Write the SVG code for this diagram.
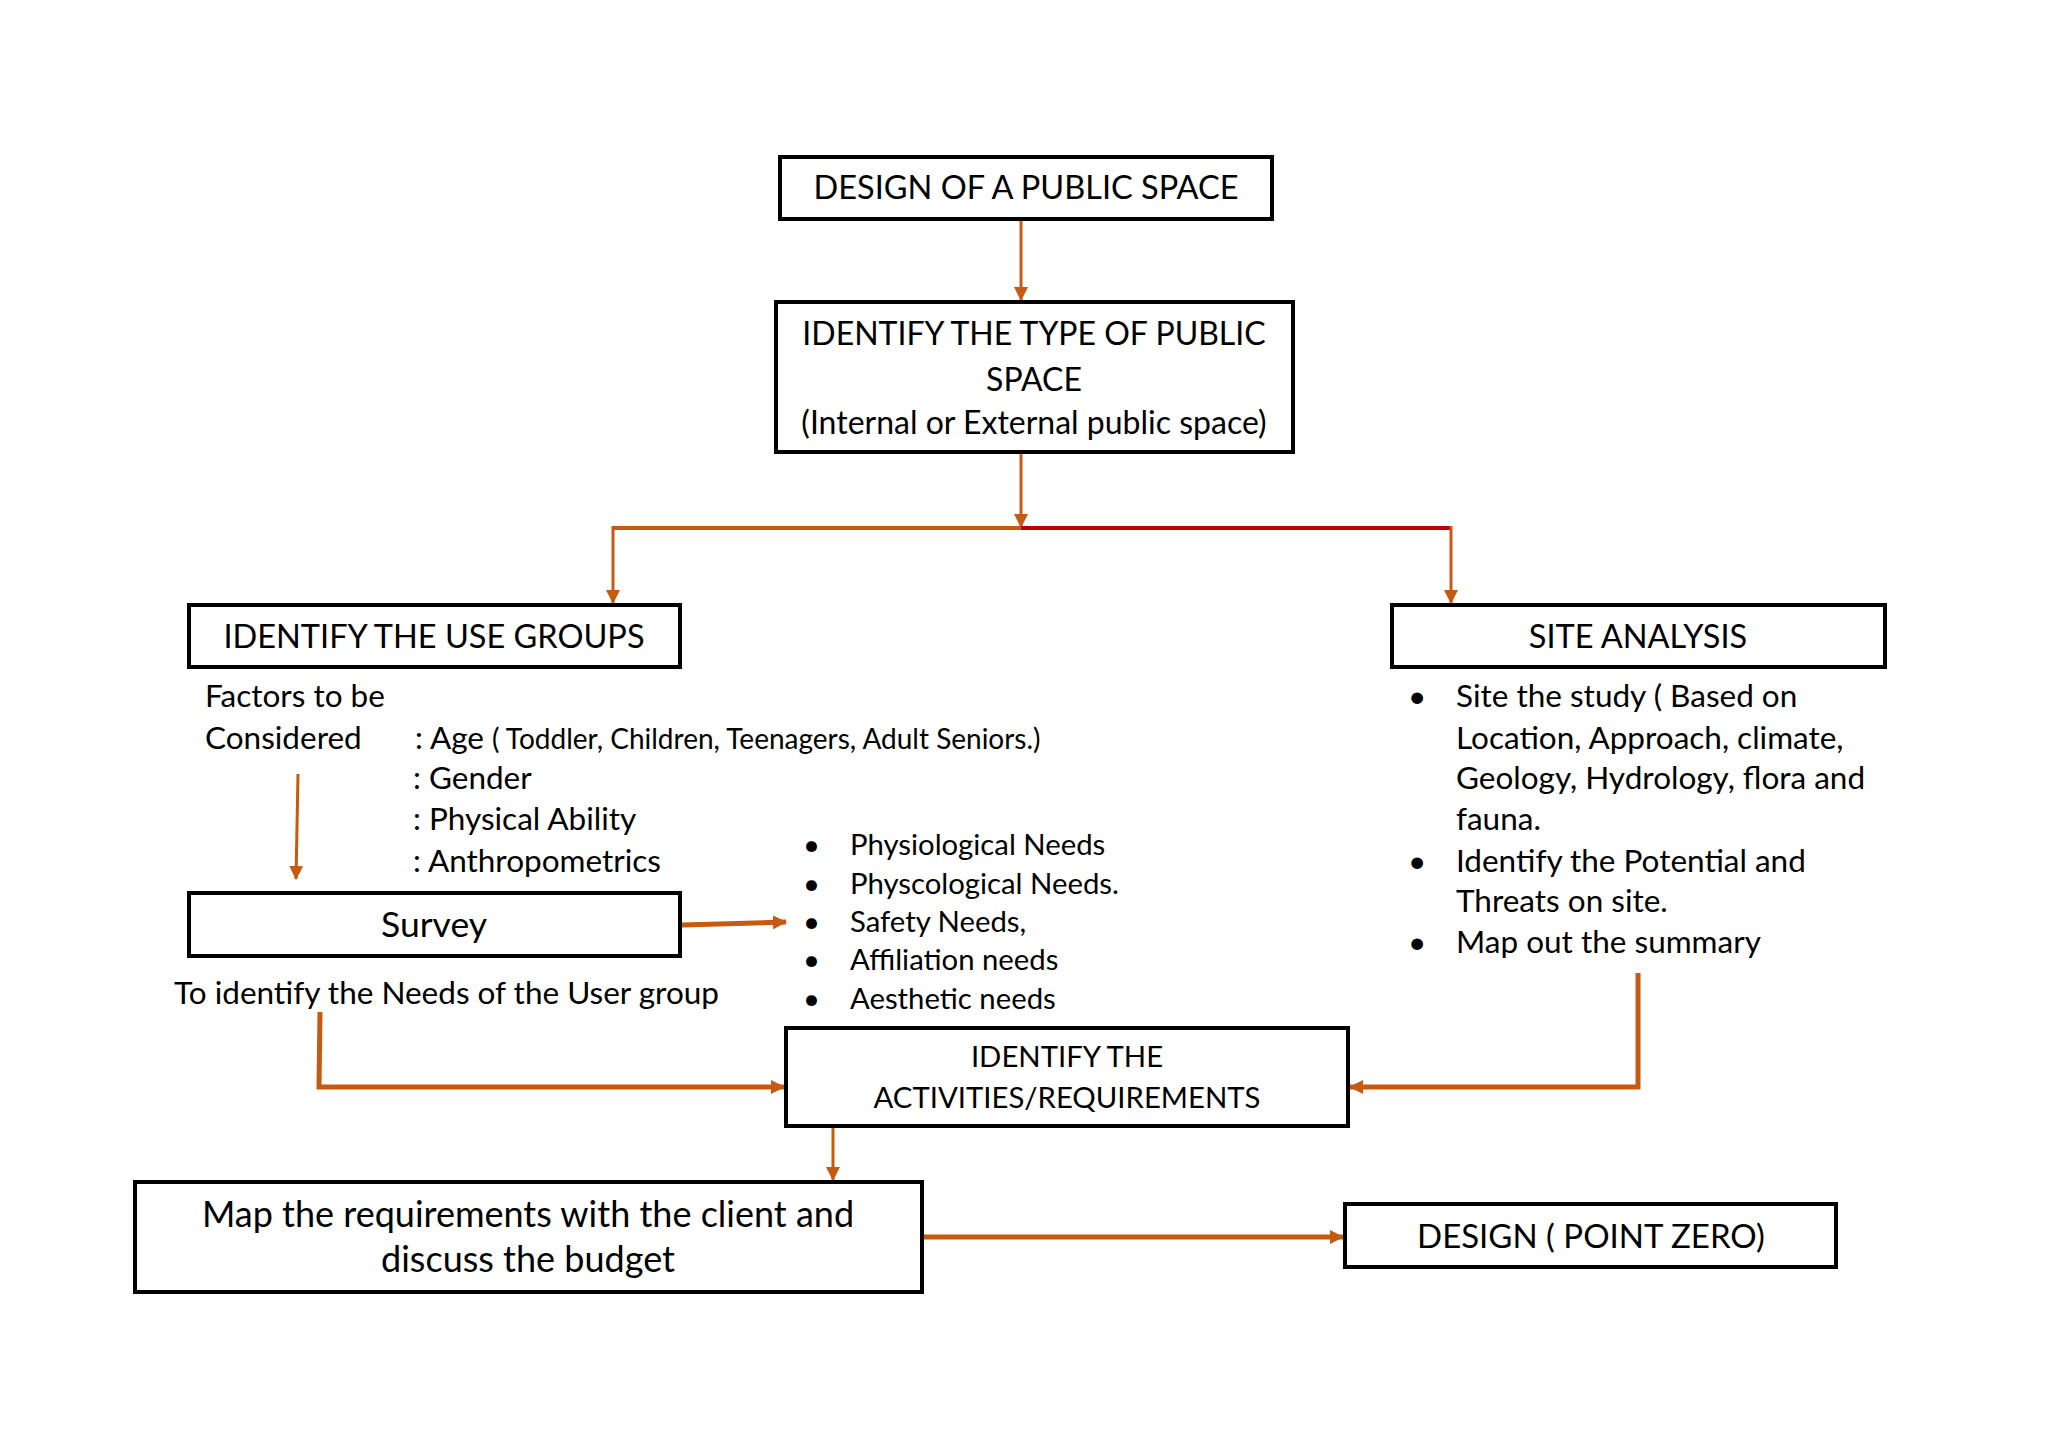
<svg xmlns="http://www.w3.org/2000/svg" width="2048" height="1448" viewBox="0 0 2048 1448">
<defs>
<style>
.box{fill:#fff;stroke:#000;stroke-width:4}
text{font-family:Lato,"Open Sans","Liberation Sans",sans-serif;fill:#000}
.t{font-size:32.5px;text-anchor:middle}
.b{font-size:31.5px}
.s{font-size:29.3px}
.c{fill:none;stroke:#C55A11;stroke-width:3}
.ck{fill:none;stroke:#C55A11;stroke-width:5}
</style>
<marker id="ah" markerUnits="userSpaceOnUse" markerWidth="14" markerHeight="14" refX="13" refY="7" orient="auto">
<path d="M0,0 L14,7 L0,14 z" fill="#C55A11"/>
</marker>
</defs>
<rect width="2048" height="1448" fill="#fff"/>

<g id="connectors">
<line class="c" x1="1021" y1="221" x2="1021" y2="300" marker-end="url(#ah)"/>
<line class="c" x1="1021" y1="454" x2="1021" y2="527" marker-end="url(#ah)"/>
<line x1="613" y1="528" x2="1022" y2="528" stroke="#C55A11" stroke-width="4"/>
<line x1="1021" y1="528" x2="1452" y2="528" stroke="#C00000" stroke-width="4"/>
<line class="c" x1="613" y1="526" x2="613" y2="603" marker-end="url(#ah)"/>
<line class="c" x1="1451" y1="526" x2="1451" y2="603" marker-end="url(#ah)"/>
<line class="c" x1="298" y1="774" x2="296" y2="879" marker-end="url(#ah)"/>
<line class="ck" x1="682" y1="925" x2="786" y2="922" marker-end="url(#ah)"/>
<polyline class="ck" points="320,1012 319,1087 784,1087" marker-end="url(#ah)"/>
<polyline class="ck" points="1638,973 1638,1087 1350,1087" marker-end="url(#ah)"/>
<line class="c" x1="833" y1="1128" x2="833" y2="1180" marker-end="url(#ah)"/>
<line class="ck" x1="924" y1="1237" x2="1343" y2="1237" marker-end="url(#ah)"/>
</g>

<g id="design-public-space">
<rect class="box" x="780" y="157" width="492" height="62"/>
<text class="t" x="1026" y="199">DESIGN OF A PUBLIC SPACE</text>
</g>

<g id="identify-type">
<rect class="box" x="776" y="302" width="517" height="150"/>
<text class="t" x="1034" y="345" style="font-size:32px">IDENTIFY THE TYPE OF PUBLIC</text>
<text class="t" x="1034" y="391" style="font-size:32px">SPACE</text>
<text class="t" x="1034" y="434" style="font-size:32px">(Internal or External public space)</text>
</g>

<g id="use-groups">
<rect class="box" x="189" y="605" width="491" height="62"/>
<text class="t" x="434" y="648">IDENTIFY THE USE GROUPS</text>
</g>

<g id="factors">
<text class="b" x="205" y="707">Factors to be</text>
<text class="b" x="205" y="749">Considered</text>
<text class="b" x="415" y="749">: Age <tspan font-size="28">( Toddler, Children, Teenagers, Adult Seniors.)</tspan></text>
<text class="b" x="413" y="789">: Gender</text>
<text class="b" x="413" y="830">: Physical Ability</text>
<text class="b" x="413" y="872">: Anthropometrics</text>
</g>

<g id="site-analysis">
<rect class="box" x="1392" y="605" width="493" height="62"/>
<text class="t" x="1638" y="648">SITE ANALYSIS</text>
</g>

<g id="site-list">
<text class="b" x="1408" y="707">•</text>
<text class="b" x="1456" y="707">Site the study ( Based on</text>
<text class="b" x="1456" y="749">Location, Approach, climate,</text>
<text class="b" x="1456" y="789">Geology, Hydrology, flora and</text>
<text class="b" x="1456" y="830">fauna.</text>
<text class="b" x="1408" y="872">•</text>
<text class="b" x="1456" y="872">Identify the Potential and</text>
<text class="b" x="1456" y="912">Threats on site.</text>
<text class="b" x="1408" y="953">•</text>
<text class="b" x="1456" y="953">Map out the summary</text>
</g>

<g id="survey">
<rect class="box" x="189" y="893" width="491" height="63"/>
<text class="t" x="434" y="937" style="font-size:35.5px">Survey</text>
</g>

<g id="survey-note">
<text class="b" x="174" y="1004">To identify the Needs of the User group</text>
</g>

<g id="needs-list">
<text class="s" x="803" y="855">•</text>
<text class="s" x="850" y="855">Physiological Needs</text>
<text class="s" x="803" y="894">•</text>
<text class="s" x="850" y="894">Physcological Needs.</text>
<text class="s" x="803" y="932">•</text>
<text class="s" x="850" y="932">Safety Needs,</text>
<text class="s" x="803" y="970">•</text>
<text class="s" x="850" y="970">Affiliation needs</text>
<text class="s" x="803" y="1009">•</text>
<text class="s" x="850" y="1009">Aesthetic needs</text>
</g>

<g id="activities">
<rect class="box" x="786" y="1028" width="562" height="98"/>
<text class="s" x="1067" y="1067" text-anchor="middle">IDENTIFY THE</text>
<text class="s" x="1067" y="1108" text-anchor="middle">ACTIVITIES/REQUIREMENTS</text>
</g>

<g id="map-requirements">
<rect class="box" x="135" y="1182" width="787" height="110"/>
<text class="t" x="528" y="1227" style="font-size:36px">Map the requirements with the client and</text>
<text class="t" x="528" y="1272" style="font-size:36px">discuss the budget</text>
</g>

<g id="design-point-zero">
<rect class="box" x="1345" y="1204" width="491" height="63"/>
<text class="t" x="1591" y="1248" style="font-size:33px">DESIGN ( POINT ZERO)</text>
</g>
</svg>
